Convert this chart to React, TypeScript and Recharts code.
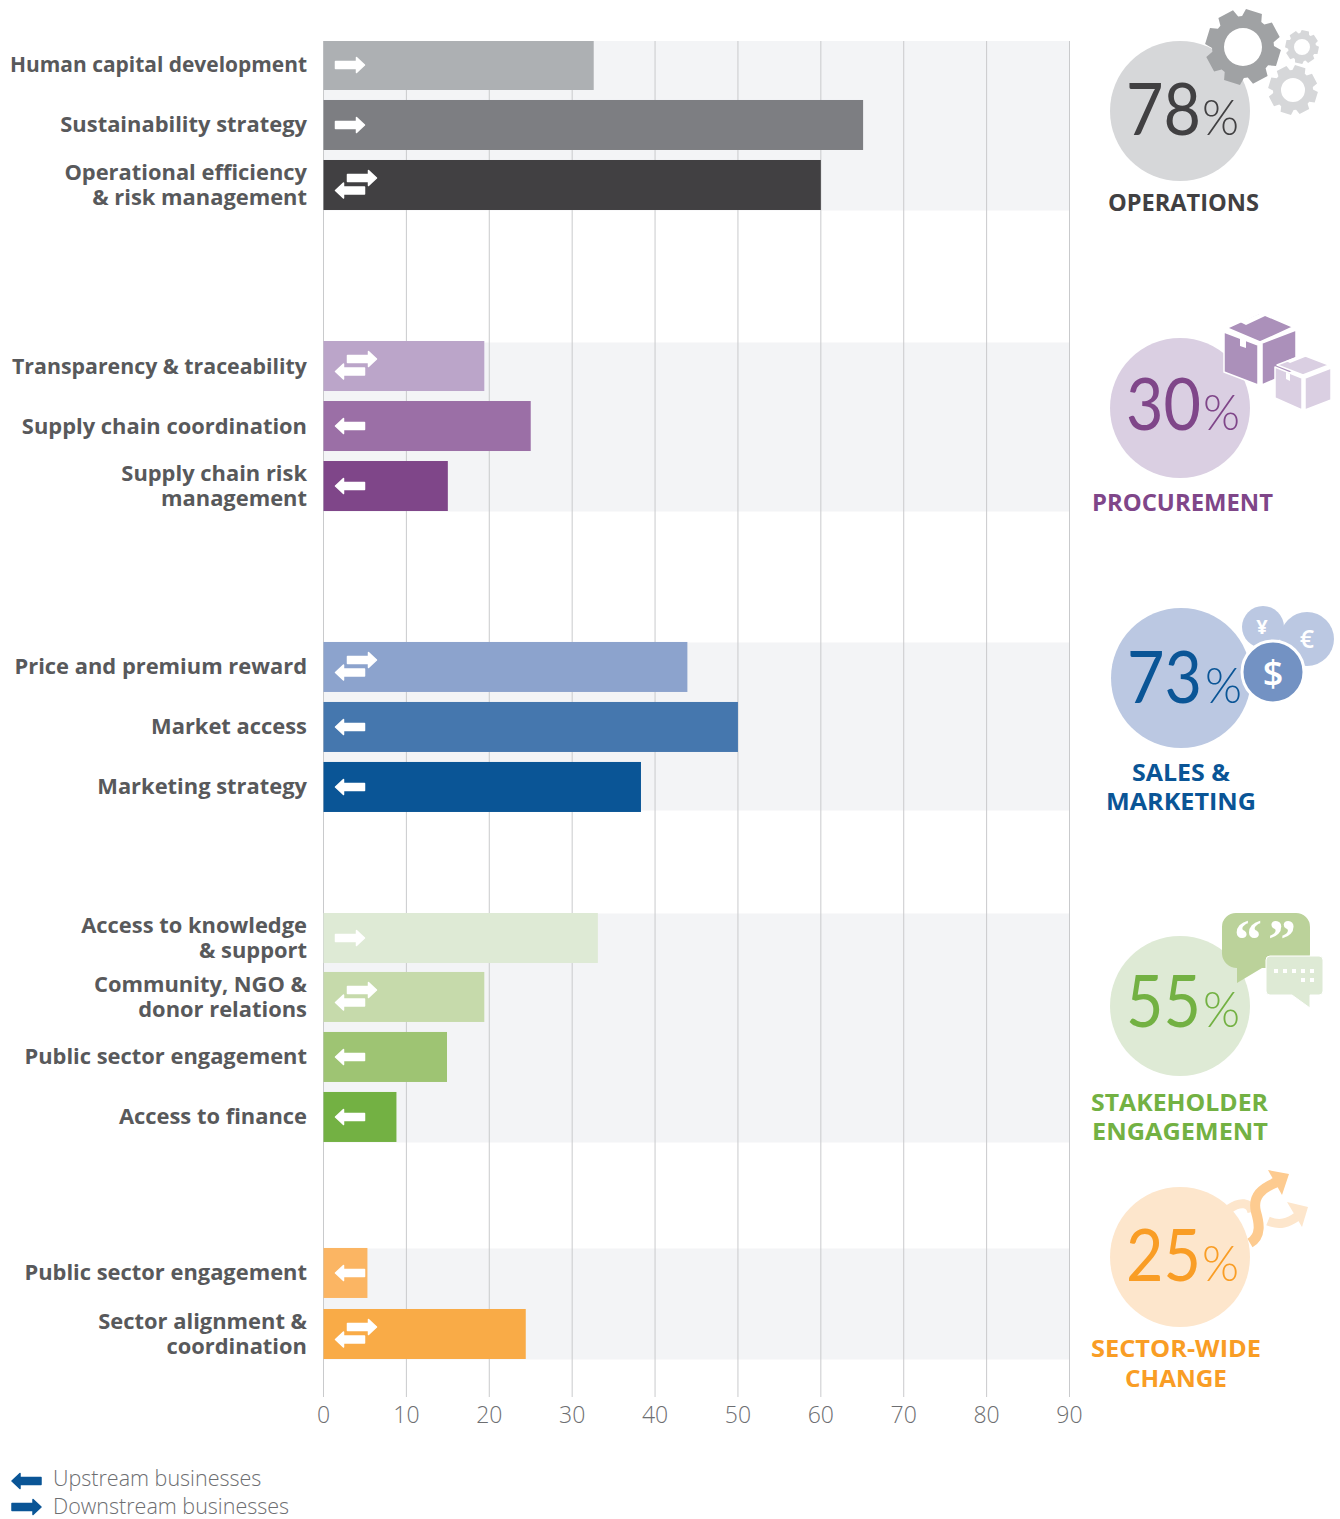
import React from "react";
import { BarChart, Bar, XAxis, YAxis, CartesianGrid, ReferenceArea } from "recharts";

const categories = [
  "Human capital development", "Sustainability strategy", "Operational efficiency\n& risk management",
  "Transparency & traceability", "Supply chain coordination", "Supply chain risk\nmanagement",
  "Price and premium reward", "Market access", "Marketing strategy",
  "Access to knowledge\n& support", "Community, NGO &\ndonor relations", "Public sector engagement", "Access to finance",
  "Public sector engagement", "Sector alignment &\ncoordination",
];
const values = [32.6, 65.1, 60, 19.4, 25, 15, 43.9, 50, 38.3, 33.1, 19.4, 14.9, 8.8, 5.3, 24.4];
const directions = ["down", "down", "both", "both", "up", "up", "both", "up", "up", "down", "both", "up", "up", "up", "both"];
const xTicks = [0, 10, 20, 30, 40, 50, 60, 70, 80, 90];

// layout only: row slots on the numeric category scale, shaded groups, colours
const rowSlots = [0, 1, 2, 5.017, 6.017, 7.017, 10.033, 11.033, 12.033, 14.55, 15.533, 16.533, 17.533, 20.133, 21.15];
const bands = [[-0.408, 2.417], [4.617, 7.433], [9.617, 12.417], [14.133, 17.95], [19.717, 21.567]];
const barColors = ["#adb0b3", "#7d7e82", "#414042", "#bba5c9", "#9b6fa6", "#7f4689", "#8ca3cd", "#4577ae", "#0a5596", "#deead5", "#c6daab", "#9ec473", "#73b143", "#fbb563", "#f9ab47"];
const rows = categories.map((name, i) => ({ name, value: values[i], dir: directions[i], slot: rowSlots[i], color: barColors[i] }));
const labelFit: Record<string, number> = { "Human capital development": 297, "Transparency & traceability": 295 };

const LABEL = "'Open Sans', sans-serif";
const NUM = "Lato, 'Open Sans', sans-serif";
const GREY = "#58595b";

function Arrow({ x, y, right, fill = "#fff" }: any) {
  const d = right
    ? `M${x} ${y - 3.5}H${x + 21}V${y - 7.5}L${x + 29} ${y}L${x + 21} ${y + 7.5}V${y + 3.5}H${x}Z`
    : `M${x + 29} ${y - 3.5}H${x + 8}V${y - 7.5}L${x} ${y}L${x + 8} ${y + 7.5}V${y + 3.5}H${x + 29}Z`;
  return <path d={d} fill={fill} stroke={fill} strokeWidth={1.5} strokeLinejoin="round" />;
}

function BarShape(props: any) {
  const { x, y, width, height, payload } = props;
  const cy = y + height / 2;
  return (
    <g>
      <rect x={x} y={y} width={width} height={height} fill={payload.color} />
      {payload.dir === "down" && <Arrow x={x + 12} y={cy} right />}
      {payload.dir === "up" && <Arrow x={x + 12} y={cy} />}
      {payload.dir === "both" && (
        <g>
          <Arrow x={x + 24} y={cy - 7} right />
          <Arrow x={x + 12} y={cy + 5.5} />
        </g>
      )}
    </g>
  );
}

function CategoryTick(props: any) {
  const { y, payload } = props;
  const row = rows.find((r) => r.slot === payload.value);
  if (!row) return null;
  const lines = row.name.split("\n");
  const fit = labelFit[row.name] ? { textLength: labelFit[row.name], lengthAdjust: "spacingAndGlyphs" } : {};
  return (
    <text x={307} y={y} textAnchor="end" fill={GREY} fontFamily={LABEL} fontWeight={700} fontSize={21.9} {...fit}>
      {lines.map((l, i) => (
        <tspan key={i} x={307} y={y + 7 + (i - (lines.length - 1) / 2) * 24.6}>{l}</tspan>
      ))}
    </text>
  );
}

function gearPath(cx: number, cy: number, R: number, r: number, hole: number, teeth: number, rot: number) {
  const pts: string[] = [];
  const step = (Math.PI * 2) / teeth;
  for (let i = 0; i < teeth; i++) {
    const a = rot + i * step;
    const seq: [number, number][] = [[r, -0.42], [R, -0.28], [R, 0.28], [r, 0.42]];
    for (const [rad, f] of seq) {
      pts.push(`${(cx + rad * Math.cos(a + f * step)).toFixed(1)} ${(cy + rad * Math.sin(a + f * step)).toFixed(1)}`);
    }
  }
  return `M${pts.join("L")}Z M${cx - hole} ${cy}a${hole} ${hole} 0 1 0 ${hole * 2} 0a${hole} ${hole} 0 1 0 ${-hole * 2} 0Z`;
}

function Stat({ cx, cy, circle, color, num, base, nx, pctX, title }: any) {
  return (
    <g>
      <circle cx={cx} cy={cy} r={70} fill={circle} />
      <text y={base} fill={color} fontFamily={NUM}>
        <tspan x={nx - 1} y={base} fontWeight={400} fontSize={72} textLength={75} lengthAdjust="spacingAndGlyphs">{num}</tspan>
        <tspan x={pctX} y={base} fontWeight={300} fontSize={49} textLength={37} lengthAdjust="spacingAndGlyphs">%</tspan>
      </text>
      {title.map((t: any, i: number) => (
        <text key={i} x={t.x} y={t.y} fill={color} fontFamily={LABEL} fontWeight={700} fontSize={23} textLength={t.w} lengthAdjust="spacingAndGlyphs">{t.s}</text>
      ))}
    </g>
  );
}

function Overlay() {
  const dark = "#414042";
  return (
    <svg width={1340} height={1519} style={{ position: "absolute", left: 0, top: 0, pointerEvents: "none" }}>
      <Stat cx={1180} cy={111} circle="#d6d7d9" color={dark} num="78" base={135} nx={1127} pctX={1202}
        title={[{ s: "OPERATIONS", x: 1108, y: 211, w: 151 }]} />
      <path d={gearPath(1243, 47, 38, 31, 19, 8, 0.3)} fill="#a0a2a4" fillRule="evenodd" />
      <path d={gearPath(1302, 47, 17, 14, 8, 8, 0.2)} fill="#d6d7d9" fillRule="evenodd" />
      <path d={gearPath(1293, 90, 25, 20, 12, 8, 0.3)} fill="#d6d7d9" fillRule="evenodd" />

      <Stat cx={1180} cy={408} circle="#dacfe2" color="#7f4689" num="30" base={430} nx={1127} pctX={1203}
        title={[{ s: "PROCUREMENT", x: 1092, y: 511, w: 181 }]} />
      <g stroke="#fff" strokeWidth={1.5} strokeLinejoin="round">
        <polygon points="1224,332 1258,345 1258,385 1224,372" fill="#ab90ba" />
        <polygon points="1262,343 1296,330 1296,370 1262,385" fill="#ab90ba" />
        <polygon points="1227,328 1260,313 1293,327 1260,342" fill="#ab90ba" />
        <polygon points="1275,367 1302,378 1302,410 1275,398" fill="#dacfe2" />
        <polygon points="1305,378 1331,368 1331,400 1305,410" fill="#dacfe2" />
        <polygon points="1277,365 1303,355 1329,365 1303,375" fill="#dacfe2" />
      </g>
      <polygon points="1240,334 1246,336 1246,348 1240,346" fill="#fff" />
      <polygon points="1240,322 1271,309 1276,311 1246,325" fill="#fff" />
      <polygon points="1286,372 1290,374 1290,381 1286,379" fill="#fff" />
      <polygon points="1286,361 1311,351 1315,353 1290,363" fill="#fff" />

      <Stat cx={1181} cy={678} circle="#bbc8e2" color="#0a5596" num="73" base={703} nx={1128} pctX={1205}
        title={[{ s: "SALES &", x: 1132, y: 781, w: 98 }, { s: "MARKETING", x: 1106, y: 810, w: 150 }]} />
      <circle cx={1263} cy={627} r={21} fill="#bbc8e2" />
      <circle cx={1307} cy={639} r={27} fill="#bbc8e2" />
      <circle cx={1273} cy={672} r={31} fill="#7392c3" stroke="#fff" strokeWidth={3} />
      <text x={1262} y={634} textAnchor="middle" fill="#fff" fontFamily={LABEL} fontWeight={700} fontSize={20}>¥</text>
      <text x={1307} y={648} textAnchor="middle" fill="#fff" fontFamily={LABEL} fontWeight={600} fontSize={25}>€</text>
      <text x={1273} y={686} textAnchor="middle" fill="#fff" fontFamily={LABEL} fontWeight={600} fontSize={36}>$</text>

      <Stat cx={1180} cy={1006} circle="#deead5" color="#73b143" num="55" base={1027} nx={1127} pctX={1203}
        title={[{ s: "STAKEHOLDER", x: 1091, y: 1111, w: 177 }, { s: "ENGAGEMENT", x: 1092, y: 1140, w: 176 }]} />
      <path d="M1236 913H1296a14 14 0 0 1 14 14V954a14 14 0 0 1 -14 14H1262L1237 983V968a15 15 0 0 1 -15 -14V927a14 14 0 0 1 14 -14Z" fill="#bbd29a" />
      <text x={1234} y={959} fill="#fff" fontFamily="'Liberation Serif', serif" fontWeight={700} fontSize={56}>“</text>
      <text x={1268} y={959} fill="#fff" fontFamily="'Liberation Serif', serif" fontWeight={700} fontSize={56}>”</text>
      <path d="M1270 956H1319a4 4 0 0 1 4 4V991a4 4 0 0 1 -4 4H1310V1008L1292 995H1270a4 4 0 0 1 -4 -4V960a4 4 0 0 1 4 -4Z" fill="#deead5" stroke="#fff" strokeWidth={1} />
      {[1274, 1283, 1292, 1301, 1310].map((x) => <rect key={x} x={x} y={969} width={4} height={4} fill="#fff" />)}
      {[1301, 1310].map((x) => <rect key={x} x={x} y={978} width={4} height={4} fill="#fff" />)}

      <path d="M1229 1209C1240 1201 1250 1202 1252 1212" fill="none" stroke="#fde6cc" strokeWidth={9} />
      <path d="M1268 1221C1280 1226 1288 1223 1298 1216" fill="none" stroke="#fde6cc" strokeWidth={9} />
      <polygon points="1287,1202 1308,1207 1302,1227" fill="#fde6cc" />
      <Stat cx={1180} cy={1257} circle="#fde6cc" color="#f99d25" num="25" base={1281} nx={1127} pctX={1202}
        title={[{ s: "SECTOR-WIDE", x: 1091, y: 1357, w: 170 }, { s: "CHANGE", x: 1125, y: 1387, w: 102 }]} />
      <path d="M1250 1243C1262 1236 1259 1222 1256 1212C1252 1196 1262 1188 1277 1182" fill="none" stroke="#fdcb90" strokeWidth={10} />
      <polygon points="1268,1170 1289,1174 1282,1195" fill="#fdcb90" />

      <Arrow x={12} y={1481} fill="#0a5596" />
      <Arrow x={12} y={1507} right fill="#0a5596" />
      <text x={53} y={1486} fill="#6d6e71" fontFamily={LABEL} fontWeight={300} fontSize={21.5}>Upstream businesses</text>
      <text x={53} y={1514} fill="#6d6e71" fontFamily={LABEL} fontWeight={300} fontSize={21.5}>Downstream businesses</text>
    </svg>
  );
}

export default function App() {
  return (
    <div style={{ position: "absolute", left: 0, top: 0, width: 1340, height: 1519, overflow: "hidden", background: "#fff" }}>
      <BarChart
        width={1340}
        height={1519}
        layout="vertical"
        data={rows}
        margin={{ top: 41, right: 270.5, bottom: 92, left: 0.5 }}
      >
        {bands.map(([a, b], i) => (
          <ReferenceArea key={i} x1={0} x2={90} y1={a} y2={b} fill="#f3f4f6" fillOpacity={1} stroke="none" zIndex={-200} />
        ))}
        <CartesianGrid horizontal={false} vertical stroke="#c9cacc" strokeWidth={1} zIndex={-100} />
        <XAxis
          type="number"
          domain={[0, 90]}
          ticks={xTicks}
          axisLine={false}
          tickLine={false}
          height={30}
          tickMargin={4}
          tick={{ fontFamily: LABEL, fontWeight: 300, fontSize: 23, fill: "#6d6e71" }}
          interval={0}
        />
        <YAxis
          type="number"
          dataKey="slot"
          domain={[-0.408, 22.192]}
          allowDataOverflow
          ticks={rowSlots}
          width={323}
          axisLine={false}
          tickLine={false}
          interval={0}
          tick={<CategoryTick />}
        />
        <Bar dataKey="value" barSize={50} isAnimationActive={false} shape={<BarShape />} />
      </BarChart>
      <Overlay />
    </div>
  );
}
